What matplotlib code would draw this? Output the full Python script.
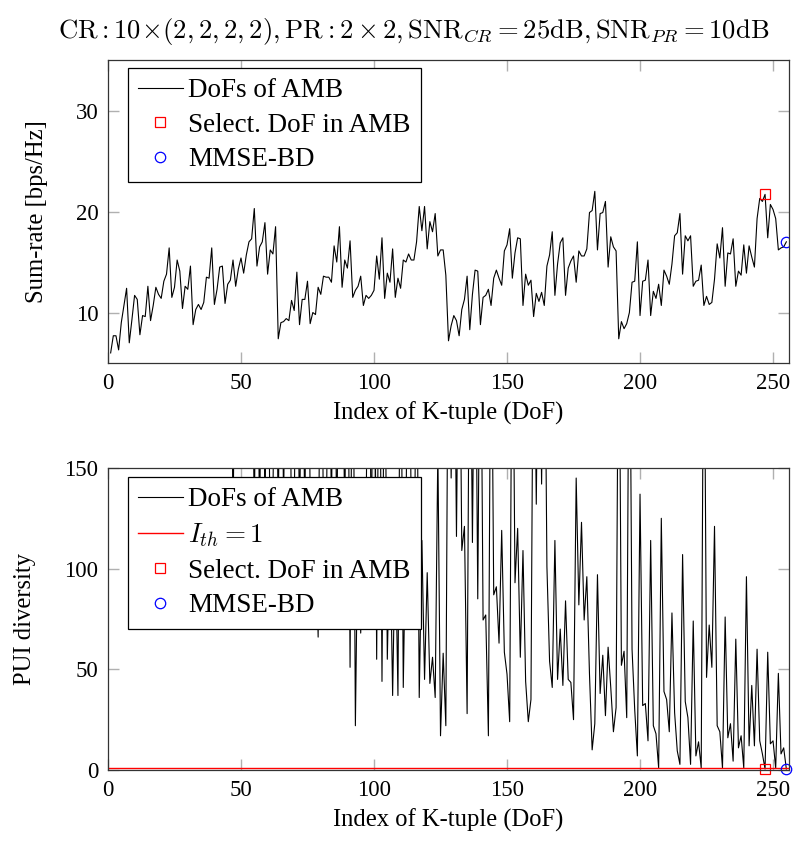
import numpy as np
import matplotlib
matplotlib.use("Agg")
import matplotlib.pyplot as plt

plt.rcParams['font.family'] = ['Liberation Serif', 'DejaVu Serif']
plt.rcParams['mathtext.fontset'] = 'cm'

# sum-rate per K-tuple index (1..255) in blocks of 64
rate_a = [6.0, 7.7, 7.7, 6.3, 9.0, 10.7, 12.4, 7.0, 9.3, 11.7, 11.3, 7.8, 9.7, 9.6, 12.6, 9.2,
          10.7, 12.5, 11.8, 11.4, 13.1, 13.8, 16.4, 11.5, 12.5, 15.2, 14.1, 10.4, 12.6, 12.3, 14.6, 8.8,
          10.3, 10.8, 10.3, 11.0, 13.5, 13.4, 16.4, 10.8, 12.3, 14.5, 14.6, 10.9, 12.8, 13.2, 15.2, 12.6,
          14.3, 15.4, 13.9, 15.7, 17.0, 17.3, 20.3, 14.6, 16.5, 17.0, 18.9, 13.8, 16.2, 15.8, 18.5, 7.4]
rate_b = [9.0, 9.1, 9.4, 9.2, 11.2, 10.2, 14.0, 8.8, 11.3, 11.3, 13.1, 8.9, 10.0, 9.8, 12.5, 11.8,
          13.6, 13.5, 13.5, 13.0, 16.6, 15.0, 18.5, 12.5, 15.2, 14.4, 17.1, 11.5, 12.2, 12.6, 13.6, 10.7,
          11.7, 11.4, 11.7, 12.2, 15.6, 13.3, 17.4, 11.4, 13.9, 13.0, 16.3, 11.5, 13.4, 12.4, 15.2, 15.0,
          15.8, 15.2, 15.2, 17.0, 20.5, 18.1, 20.5, 16.3, 19.0, 18.0, 19.8, 15.6, 16.2, 16.2, 13.7, 7.2]
rate_c = [8.7, 9.7, 9.2, 7.7, 10.3, 11.3, 13.6, 8.3, 11.8, 14.2, 14.1, 8.8, 11.5, 11.7, 12.3, 10.7,
          13.4, 14.2, 13.4, 12.7, 16.1, 16.7, 18.3, 13.4, 15.9, 17.4, 17.3, 10.7, 13.8, 12.7, 13.2, 9.6,
          11.9, 11.1, 12.0, 10.7, 14.6, 15.7, 18.0, 11.7, 14.8, 16.9, 17.4, 11.7, 14.4, 15.1, 15.6, 13.0,
          16.1, 15.6, 15.6, 16.3, 19.9, 20.1, 22.0, 16.2, 19.8, 19.9, 21.0, 14.5, 17.5, 16.5, 16.1, 7.4]
rate_d = [9.1, 8.4, 8.9, 10.0, 13.0, 13.1, 17.0, 9.7, 13.1, 13.2, 15.2, 9.7, 12.1, 11.4, 12.8, 10.7,
          14.2, 13.6, 12.8, 14.8, 17.6, 17.9, 19.8, 13.8, 17.6, 17.1, 17.6, 12.6, 13.1, 13.2, 14.7, 10.7,
          11.6, 10.8, 11.0, 13.3, 16.8, 15.4, 18.4, 12.6, 15.9, 15.8, 17.3, 12.6, 14.1, 13.7, 16.7, 13.9,
          16.6, 15.5, 14.5, 19.3, 21.3, 21.0, 21.7, 17.4, 20.7, 20.2, 19.3, 16.2, 16.4, 16.5, 17.0]

# PUI diversity per index (values above 150 are off the chart)
pui_a = [300, 320, 280, 310, 290, 300, 330, 300, 280, 310, 300, 290, 320, 300, 280, 310,
         300, 290, 310, 300, 280, 320, 300, 290, 310, 300, 280, 300, 320, 290, 300, 310,
         280, 300, 290, 310, 300, 320, 280, 300, 310, 290, 300, 280, 310, 300, 120, 260,
         280, 240, 270, 230, 290, 250, 125, 260, 118, 270, 128, 240, 112, 135, 260, 122]
pui_b = [280, 131, 250, 270, 115, 127, 260, 119, 240, 124, 290, 133, 117, 126, 66, 280,
         121, 110, 250, 128, 270, 114, 260, 240, 123, 270, 51, 260, 22, 129, 68, 118,
         126, 250, 112, 270, 55, 260, 44, 240, 55, 121, 37, 116, 37, 250, 41, 124,
         260, 127, 70, 240, 36, 114, 45, 98, 43, 56, 36, 160, 17, 58, 22, 260]
pui_c = [145, 260, 116, 260, 109, 121, 28, 260, 113, 260, 85, 260, 74.5, 77, 17, 260,
         87, 91, 63, 119, 58.5, 47.6, 24, 260, 93, 120, 56, 109, 44, 24, 35, 260,
         132, 260, 142, 260, 101, 54, 41, 114, 45, 70, 42, 84, 45, 43.5, 25, 145,
         82, 123, 74.5, 96, 47.6, 10, 23, 97, 38, 57, 27, 61, 41, 19, 31, 260]
pui_d = [52, 59, 26, 260, 60, 30, 7, 137, 32, 33, 14.5, 114, 22, 18, 1, 125,
         39, 35, 19, 78, 28.5, 9.5, 2.8, 107, 34, 26, 2.8, 74, 7, 14, 1, 260,
         46, 72, 51, 121, 22, 19, 1, 76, 16, 23, 4.4, 65, 11, 17, 1, 96,
         12, 42, 12, 60, 14.5, 8, 0.5, 58.5, 13, 14.5, 1, 48, 8, 11, 0.5]

i_th = 1
sel_idx = 247
mmse_idx = 255
mmse_rate = 17.0
mmse_pui = 0.5

rate = np.array(rate_a + rate_b + rate_c + rate_d)
pui = np.array(pui_a + pui_b + pui_c + pui_d)
idx = np.arange(1, len(rate) + 1)

fig = plt.figure(figsize=(7.94, 8.47), dpi=100)
ax1 = fig.add_axes([0.136, 0.5714, 0.8577, 0.3577])
ax2 = fig.add_axes([0.136, 0.0909, 0.8577, 0.3566])

fs = 16.5
lfs = 17.7
for ax in (ax1, ax2):
    ax.tick_params(direction='in', length=8, width=1, color='#b0b0b0',
                   top=True, right=True, labelsize=fs, pad=7)
    for s in ax.spines.values():
        s.set_linewidth(0.9)
        s.set_color('#333333')
    ax.set_xlim(0, 256)
    ax.set_xticks([0, 50, 100, 150, 200, 250])
    ax.set_xlabel('Index of K-tuple (DoF)', fontsize=lfs, labelpad=6)

leg_kw = dict(loc='upper left', fontsize=19.5, frameon=True, fancybox=False,
              edgecolor='black', framealpha=1, borderaxespad=0, handlelength=1.65,
              labelspacing=0.35, handletextpad=0.2, borderpad=0.38)

# top: sum-rate
ax1.plot(idx, rate, color='black', lw=0.8, label='DoFs of AMB')
ax1.plot(sel_idx, rate[sel_idx - 1], 's', mfc='none', mec='red', ms=7.5, mew=0.9,
         label='Select. DoF in AMB')
ax1.plot(mmse_idx, mmse_rate, 'o', mfc='none', mec='blue', ms=7.5, mew=0.9,
         label='MMSE-BD')
ax1.set_ylim(5, 35)
ax1.set_yticks([10, 20, 30])
ax1.set_ylabel('Sum-rate [bps/Hz]', fontsize=lfs, labelpad=20)
leg1 = ax1.legend(bbox_to_anchor=(0.029, 0.974), **leg_kw)
leg1.get_frame().set_linewidth(0.9)
fig.text(58 / 794, 1 - 38 / 847,
         r'$\mathrm{CR}: 10\!\times\!(2,2,2,2), \mathrm{PR}: 2\times2, '
         r'\mathrm{SNR}_{CR} = 25\mathrm{dB}, \mathrm{SNR}_{PR} = 10\mathrm{dB}$',
         fontsize=19.2, ha='left', va='baseline')

# bottom: PUI diversity
ax2.plot(idx, pui, color='black', lw=0.8, label='DoFs of AMB')
ax2.plot([0, 256], [i_th, i_th], color='red', lw=1.0, label=r'$I_{th} = 1$')
ax2.plot(sel_idx, pui[sel_idx - 1], 's', mfc='none', mec='red', ms=7.5, mew=0.9,
         label='Select. DoF in AMB', clip_on=False)
ax2.plot(mmse_idx, mmse_pui, 'o', mfc='none', mec='blue', ms=7.5, mew=0.9,
         label='MMSE-BD', clip_on=False)
ax2.set_ylim(0, 150)
ax2.set_yticks([0, 50, 100, 150])
ax2.set_ylabel('PUI diversity', fontsize=lfs, labelpad=20)
leg2 = ax2.legend(bbox_to_anchor=(0.029, 0.970), **leg_kw)
leg2.get_frame().set_linewidth(0.9)

fig.savefig('out.png', dpi=100)
